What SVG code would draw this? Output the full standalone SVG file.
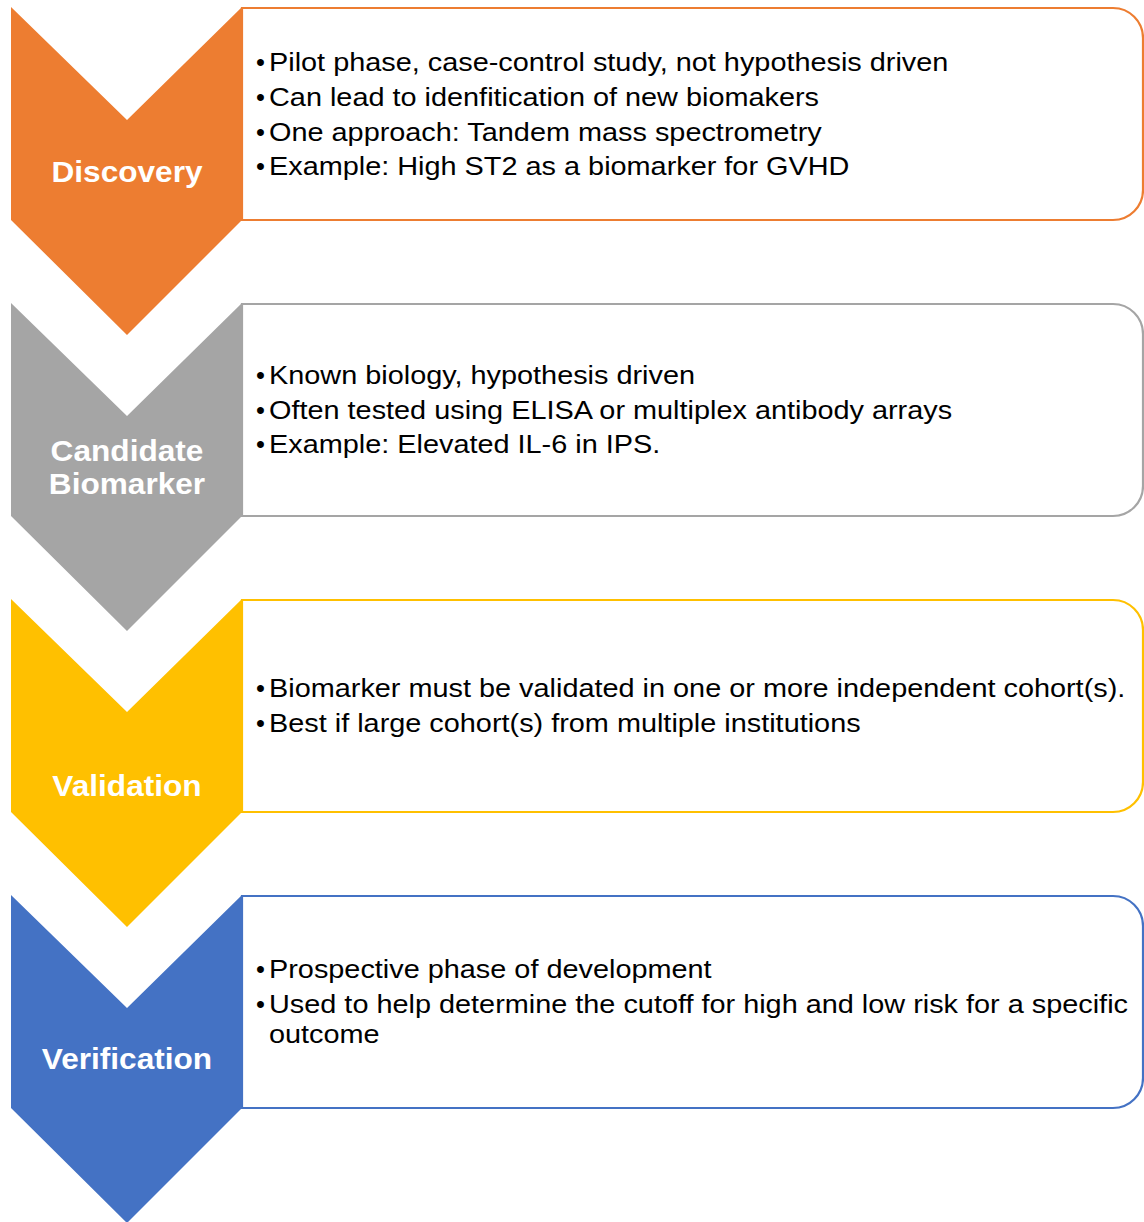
<svg xmlns="http://www.w3.org/2000/svg" width="1144" height="1222" viewBox="0 0 1144 1222">
  <style>
    .box { fill: #FFFFFF; stroke-width: 2.2; }
    .label { font-family: "Liberation Sans", Arial, sans-serif; font-weight: bold; font-size: 29px; fill: #FFFFFF; text-anchor: middle; }
    .body { font-family: "Liberation Sans", Arial, sans-serif; font-size: 25.5px; fill: #000000; }
  </style>
  <defs>
    <!-- chevron pointing down, 231 wide -->
    <polygon id="chev" points="11,0 127,113 242,0 242,213 127,328 11,213"/>
    <!-- box with rounded right-hand corners -->
    <path id="panel" d="M242,1 H1113 A30,30 0 0 1 1143,31 V183 A30,30 0 0 1 1113,213 H242 Z"/>
  </defs>

  <g id="connectors"/>

  <!-- Step 1: Discovery -->
  <g id="discovery" transform="translate(0,7)">
    <use href="#panel" class="box" stroke="#ED7D31"/>
    <use href="#chev" fill="#ED7D31"/>
    <g transform="translate(127,0) scale(1.09,1)">
      <text class="label" x="0" y="175">Discovery</text>
    </g>
    <g class="body">
      <text x="256" y="64">•</text><text x="256" y="99">•</text><text x="256" y="134">•</text><text x="256" y="168">•</text>
    </g>
    <g class="body" transform="translate(269,0) scale(1.132,1)">
      <text x="0" y="64">Pilot phase, case-control study, not hypothesis driven</text>
      <text x="0" y="99">Can lead to idenfitication of new biomakers</text>
      <text x="0" y="134">One approach: Tandem mass spectrometry</text>
      <text x="0" y="168">Example: High ST2 as a biomarker for GVHD</text>
    </g>
  </g>

  <!-- Step 2: Candidate Biomarker -->
  <g id="candidate" transform="translate(0,303)">
    <use href="#panel" class="box" stroke="#A5A5A5"/>
    <use href="#chev" fill="#A5A5A5"/>
    <g transform="translate(127,0) scale(1.09,1)">
      <text class="label" x="0" y="158">Candidate</text>
      <text class="label" x="0" y="191">Biomarker</text>
    </g>
    <g class="body">
      <text x="256" y="81">•</text><text x="256" y="116">•</text><text x="256" y="150">•</text>
    </g>
    <g class="body" transform="translate(269,0) scale(1.132,1)">
      <text x="0" y="81">Known biology, hypothesis driven</text>
      <text x="0" y="116">Often tested using ELISA or multiplex antibody arrays</text>
      <text x="0" y="150">Example: Elevated IL-6 in IPS.</text>
    </g>
  </g>

  <!-- Step 3: Validation -->
  <g id="validation" transform="translate(0,599)">
    <use href="#panel" class="box" stroke="#FFC000"/>
    <use href="#chev" fill="#FFC000"/>
    <g transform="translate(127,0) scale(1.09,1)">
      <text class="label" x="0" y="197">Validation</text>
    </g>
    <g class="body">
      <text x="256" y="98">•</text><text x="256" y="133">•</text>
    </g>
    <g class="body" transform="translate(269,0) scale(1.132,1)">
      <text x="0" y="98">Biomarker must be validated in one or more independent cohort(s).</text>
      <text x="0" y="133">Best if large cohort(s) from multiple institutions</text>
    </g>
  </g>

  <!-- Step 4: Verification -->
  <g id="verification" transform="translate(0,895)">
    <use href="#panel" class="box" stroke="#4472C4"/>
    <use href="#chev" fill="#4472C4"/>
    <g transform="translate(127,0) scale(1.09,1)">
      <text class="label" x="0" y="174">Verification</text>
    </g>
    <g class="body">
      <text x="256" y="83">•</text><text x="256" y="118">•</text>
    </g>
    <g class="body" transform="translate(269,0) scale(1.132,1)">
      <text x="0" y="83">Prospective phase of development</text>
      <text x="0" y="118">Used to help determine the cutoff for high and low risk for a specific</text>
      <text x="0" y="148">outcome</text>
    </g>
  </g>
</svg>
